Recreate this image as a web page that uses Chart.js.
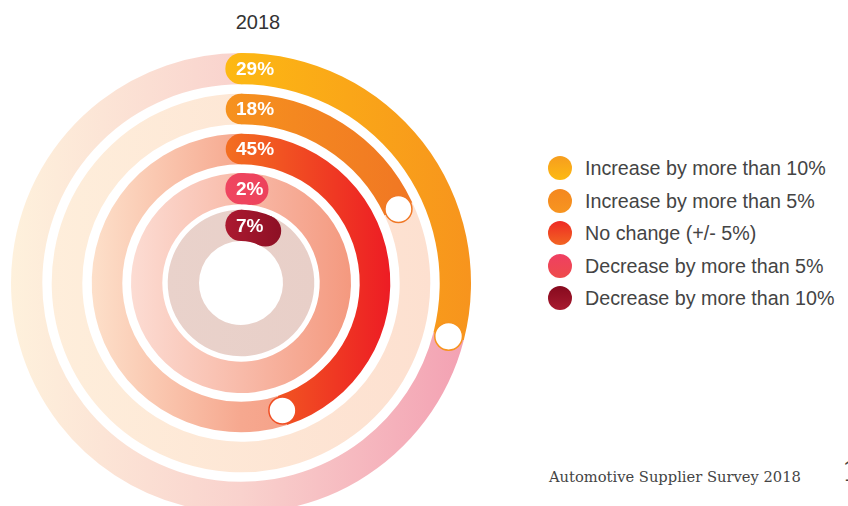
<!DOCTYPE html>
<html><head><meta charset="utf-8">
<script src="https://cdn.jsdelivr.net/npm/chart.js@4.4.1/dist/chart.umd.min.js"></script>
<style>
html,body{margin:0;padding:0;background:#fff;width:848px;height:506px;overflow:hidden;position:relative;}
#wrap{position:absolute;left:0;top:0;width:482px;height:566px;}
#title{position:absolute;left:208px;width:100px;top:10px;text-align:center;font:20px "Liberation Sans",Arial,sans-serif;color:#333;line-height:24px}
.leg{position:absolute;left:548px;height:24px;font:19.7px "Liberation Sans",Arial,sans-serif;color:#444;}
.leg i{position:absolute;left:0;top:0;width:24px;height:24px;border-radius:50%}
.leg span{position:absolute;left:37px;top:0;line-height:24px;white-space:nowrap}
#foot{position:absolute;left:549px;top:468px;font:14.7px "DejaVu Serif",serif;color:#444;white-space:nowrap}
#page{position:absolute;left:842px;top:456px;font:27px "DejaVu Serif",serif;color:#444}
</style></head><body>
<div id="title"></div>
<div id="wrap"><canvas id="c"></canvas></div>
<div id="legend"></div>
<div id="foot"></div>
<div id="page">1</div>
<script>
// ---- data ----
const chartTitle = '2018';
const categories = ['Increase by more than 10%', 'Increase by more than 5%', 'No change (+/- 5%)', 'Decrease by more than 5%', 'Decrease by more than 10%'];
const values = [29, 18, 45, 2, 7];
const footerText = 'Automotive Supplier Survey 2018';

// ---- styles ----
const arcStops = [['#fdb913', '#f7941d'], ['#f6921e', '#f07424'], ['#f36f21', '#ed1c24'], ['#ef4660', '#e93a52'], ['#ac1a30', '#7a0a1e']];
const trackStops = [
  [[0, '#fef1dc'], [0.5, '#f9d2cd'], [1, '#f3a0b2']],
  [[0, '#feeedb'], [1, '#fde0d0']],
  [[0, '#fde0ca'], [0.5, '#f6a88f'], [1, '#f4937a']],
  [[0, '#fcdcd3'], [1, '#f4997f']],
  [[0, '#e9d2cb'], [1, '#e8cfc8']]
];
const endStroke = ['#f7941d', '#f07826', '#f04e23', '#e93a52', '#7a0a1e'];
const legendGrad = [['#f69d1f', '#fdba12'], ['#f4871f', '#f79520'], ['#ee2a24', '#f26522'], ['#ef3f62', '#ee4b4b'], ['#860a1e', '#a81a2f']];
const ringWidths = [31.3, 30.6, 30.6, 31.3, 31.3];
const gapWidths = [9.4, 9.4, 8.7, 5.4];

document.getElementById('title').textContent = chartTitle;
document.getElementById('foot').textContent = footerText;
const lg = document.getElementById('legend');
categories.forEach((name, i) => {
  const d = document.createElement('div');
  d.className = 'leg';
  d.style.top = (168 + i * 32.6 - 12) + 'px';
  const dot = document.createElement('i');
  dot.style.background = 'linear-gradient(to bottom,' + legendGrad[i][0] + ',' + legendGrad[i][1] + ')';
  const s = document.createElement('span');
  s.textContent = name;
  d.appendChild(dot); d.appendChild(s);
  lg.appendChild(d);
});

const OUTER = 230;
function center(chart) {
  const a = chart.chartArea;
  return { x: (a.left + a.right) / 2, y: (a.top + a.bottom) / 2 };
}
function arcGrad(chart, i) {
  const c = center(chart);
  const reach = [OUTER, 190, 150, 110, 74][i];
  const g = chart.ctx.createLinearGradient(c.x - 16, 0, c.x + reach, 0);
  g.addColorStop(0, arcStops[i][0]);
  g.addColorStop(1, arcStops[i][1]);
  return g;
}
function trackGrad(chart, i) {
  const c = center(chart);
  const reach = [OUTER, 190, 150, 110, 74][i];
  const g = chart.ctx.createLinearGradient(c.x - reach, 0, c.x + reach, 0);
  trackStops[i].forEach(s => g.addColorStop(s[0], s[1]));
  return g;
}

const datasets = [];
const realIdx = [];
values.forEach((v, i) => {
  realIdx.push(datasets.length);
  datasets.push({
    label: categories[i],
    data: [v, 100 - v],
    weight: ringWidths[i],
    borderWidth: 0,
    backgroundColor: (ctx) => {
      const chart = ctx.chart;
      if (!chart.chartArea) return 'rgba(0,0,0,0)';
      return ctx.dataIndex === 0 ? arcGrad(chart, i) : trackGrad(chart, i);
    }
  });
  if (i < values.length - 1) {
    datasets.push({ label: '', data: [100], weight: gapWidths[i], borderWidth: 0, backgroundColor: 'rgba(0,0,0,0)' });
  }
});

const ringDecor = {
  id: 'ringDecor',
  afterDatasetsDraw(chart) {
    const c = chart.ctx;
    realIdx.forEach((di, i) => {
      const arc = chart.getDatasetMeta(di).data[0];
      const p = arc.getProps(['x', 'y', 'startAngle', 'endAngle', 'innerRadius', 'outerRadius'], true);
      const r = (p.innerRadius + p.outerRadius) / 2, h = (p.outerRadius - p.innerRadius) / 2;
      const sx = p.x + r * Math.cos(p.startAngle), sy = p.y + r * Math.sin(p.startAngle);
      const ex = p.x + r * Math.cos(p.endAngle), ey = p.y + r * Math.sin(p.endAngle);
      const fill = arcGrad(chart, i);
      c.save();
      c.fillStyle = fill;
      c.beginPath(); c.arc(sx, sy, h, 0, Math.PI * 2); c.fill();
      if (values[i] >= 10) {
        c.beginPath(); c.arc(ex, ey, h - 1.8, 0, Math.PI * 2);
        c.fillStyle = '#fff'; c.fill();
        c.lineWidth = 1.5; c.strokeStyle = endStroke[i]; c.stroke();
      } else {
        c.beginPath(); c.arc(ex, ey, h, 0, Math.PI * 2); c.fill();
      }
      c.fillStyle = '#fff';
      c.font = 'bold 19px "Liberation Sans", Arial, sans-serif';
      c.textAlign = 'left';
      c.textBaseline = 'middle';
      c.fillText(values[i] + '%', p.x - 5, sy + 1);
      c.restore();
    });
  }
};

new Chart(document.getElementById('c'), {
  type: 'doughnut',
  data: { labels: ['value', 'rest'], datasets },
  options: {
    responsive: true,
    maintainAspectRatio: false,
    animation: false,
    events: [],
    radius: OUTER,
    cutout: (42 / OUTER * 100) + '%',
    layout: { padding: 0 },
    plugins: { legend: { display: false }, tooltip: { enabled: false }, title: { display: false } }
  },
  plugins: [ringDecor]
});
</script>
</body></html>
